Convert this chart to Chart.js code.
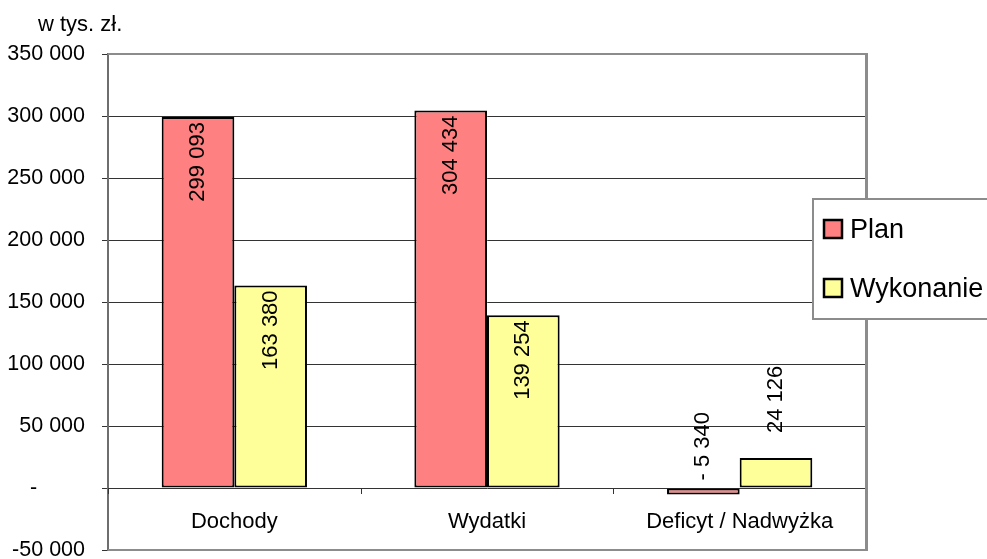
<!DOCTYPE html>
<html lang="pl">
<head>
<meta charset="utf-8">
<title>Plan i wykonanie</title>
<script src="https://cdn.jsdelivr.net/npm/chart.js@4/dist/chart.umd.min.js"></script>
<style>
  html, body { margin: 0; padding: 0; background: #fff; }
  canvas { display: block; }
</style>
</head>
<body>
<canvas id="chart" width="987" height="559"></canvas>
<script>
const CATEGORIES = ["Dochody", "Wydatki", "Deficyt / Nadwyżka"];
const PLAN = [299093, 304434, -5340];
const WYKONANIE = [163380, 139254, 24126];

const Y_MIN = -50000;
const Y_MAX = 350000;
const Y_STEP = 50000;

const UNIT_LABEL = "w tys. zł.";
const FONT = "'Liberation Sans', Arial, sans-serif";

const fmt = (v) => {
  const s = String(Math.abs(v)).replace(/\B(?=(\d{3})+(?!\d))/g, " ");
  return v < 0 ? "- " + s : s;
};

const tickFmt = (v) => {
  if (v === 0) return "-        ";
  const s = String(Math.abs(v)).replace(/\B(?=(\d{3})+(?!\d))/g, " ");
  return v < 0 ? "-" + s : s;
};

// labels, frame, legend and category names drawn by hand
const decorations = {
  id: "decorations",
  afterDatasetsDraw(chart) {
    const { ctx, chartArea: area, scales } = chart;
    const x = scales.x;
    const y = scales.y;
    const zero = y.getPixelForValue(0);

    ctx.save();

    // value labels, rotated
    ctx.font = "22px " + FONT;
    ctx.fillStyle = "#000";
    ctx.textBaseline = "middle";
    chart.data.datasets.forEach((ds, di) => {
      const meta = chart.getDatasetMeta(di);
      meta.data.forEach((bar, i) => {
        const v = ds.data[i];
        const h = Math.abs(bar.base - bar.y);
        ctx.save();
        if (h > 120) {
          ctx.translate(bar.x, bar.y + 5);
          ctx.rotate(-Math.PI / 2);
          ctx.textAlign = "right";
        } else {
          const top = Math.min(bar.y, bar.base);
          ctx.translate(bar.x, top - (v > 0 ? 25 : 8));
          ctx.rotate(-Math.PI / 2);
          ctx.textAlign = "left";
        }
        ctx.fillText(fmt(v), 0, 0);
        ctx.restore();
      });
    });

    // category tick marks under the zero line
    const step = (area.right - area.left) / CATEGORIES.length;
    ctx.strokeStyle = "#333";
    ctx.lineWidth = 1;
    for (let i = 0; i <= CATEGORIES.length; i++) {
      const px = Math.round(area.left + i * step) + 0.5;
      ctx.beginPath();
      ctx.moveTo(px, zero);
      ctx.lineTo(px, zero + 6);
      ctx.stroke();
    }

    // category names
    ctx.font = "22px " + FONT;
    ctx.textAlign = "center";
    ctx.textBaseline = "alphabetic";
    CATEGORIES.forEach((c, i) => {
      ctx.fillText(c, x.getPixelForValue(i), zero + 40);
    });

    // frame: top, right, bottom in grey
    ctx.strokeStyle = "#8c8c8c";
    ctx.lineWidth = 2;
    ctx.beginPath();
    ctx.moveTo(area.left, area.top);
    ctx.lineTo(area.right, area.top);
    ctx.moveTo(area.left, area.bottom);
    ctx.lineTo(area.right, area.bottom);
    ctx.stroke();
    ctx.lineWidth = 3;
    ctx.beginPath();
    ctx.moveTo(area.right + 0.5, area.top - 1);
    ctx.lineTo(area.right + 0.5, area.bottom + 1);
    ctx.stroke();

    // unit label
    ctx.font = "22px " + FONT;
    ctx.textAlign = "left";
    ctx.fillText(UNIT_LABEL, 38, 31);

    // legend box
    const lx = area.right - 53;
    const ly = 199;
    ctx.fillStyle = "#fff";
    ctx.fillRect(lx, ly, 220, 120);
    ctx.strokeStyle = "#8c8c8c";
    ctx.lineWidth = 2;
    ctx.strokeRect(lx, ly, 220, 120);

    ctx.font = "27px " + FONT;
    chart.data.datasets.forEach((ds, di) => {
      const sy = 220 + di * 59;
      ctx.fillStyle = ds.backgroundColor;
      ctx.fillRect(lx + 11, sy, 18, 18);
      ctx.strokeStyle = "#000";
      ctx.lineWidth = 2.5;
      ctx.strokeRect(lx + 11, sy, 18, 18);
      ctx.fillStyle = "#000";
      ctx.fillText(ds.label, lx + 37, sy + 18);
    });

    ctx.restore();
  },
};

new Chart(document.getElementById("chart"), {
  type: "bar",
  data: {
    labels: CATEGORIES,
    datasets: [
      {
        label: "Plan",
        data: PLAN,
        backgroundColor: "#ff8080",
        borderColor: "#000",
        borderWidth: 2,
        borderSkipped: false,
      },
      {
        label: "Wykonanie",
        data: WYKONANIE,
        backgroundColor: "#ffff99",
        borderColor: "#000",
        borderWidth: 2,
        borderSkipped: false,
      },
    ],
  },
  options: {
    responsive: false,
    animation: false,
    layout: { padding: { left: 0, right: 121, top: 54, bottom: 9 } },
    categoryPercentage: 0.575,
    barPercentage: 1,
    plugins: {
      legend: { display: false },
      tooltip: { enabled: false },
    },
    scales: {
      x: {
        grid: { display: false },
        border: { display: false },
        ticks: { display: false },
        afterFit: (axis) => {
          axis.height = 0;
          axis.paddingLeft = 0;
          axis.paddingRight = 0;
        },
      },
      y: {
        min: Y_MIN,
        max: Y_MAX,
        ticks: {
          stepSize: Y_STEP,
          padding: 17,
          color: "#000",
          font: { family: FONT, size: 21.5 },
          callback: (v) => tickFmt(v),
        },
        grid: {
          color: (c) => (c.tick && (c.tick.value === Y_MAX || c.tick.value === Y_MIN) ? "rgba(0,0,0,0)" : "#333"),
          lineWidth: 1,
          tickLength: 6,
          tickColor: "#333",
        },
        border: { color: "#6e6e6e", width: 2 },
        afterFit: (axis) => {
          axis.width = 108;
          axis.paddingTop = 0;
          axis.paddingBottom = 0;
        },
      },
    },
  },
  plugins: [decorations],
});
</script>
</body>
</html>
